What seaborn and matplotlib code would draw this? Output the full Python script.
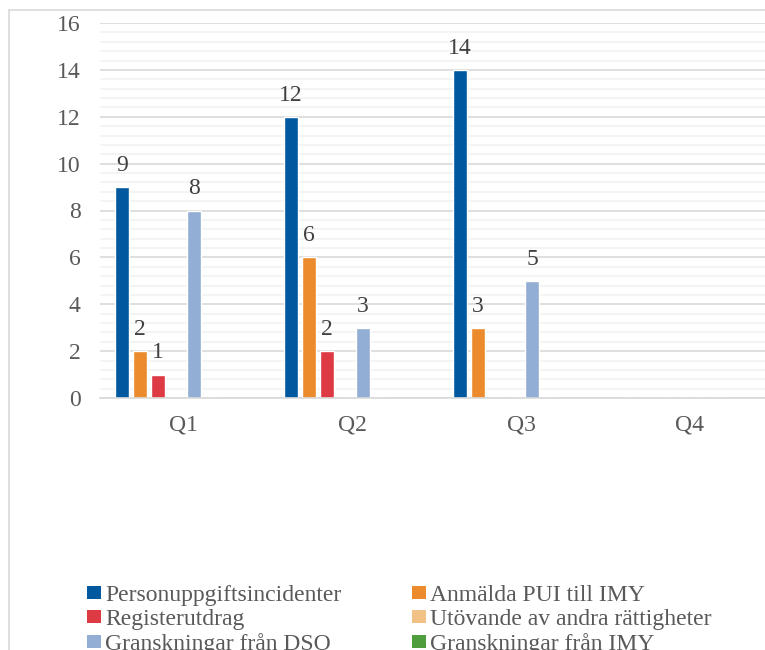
import matplotlib
matplotlib.use("Agg")
import matplotlib.pyplot as plt
import matplotlib.transforms as mtransforms
import seaborn as sns
import pandas as pd
import numpy as np
from matplotlib.lines import Line2D
from matplotlib.patches import Patch

quarters = ["Q1", "Q2", "Q3", "Q4"]
series = ["Personuppgiftsincidenter", "Anmälda PUI till IMY", "Registerutdrag",
          "Utövande av andra rättigheter", "Granskningar från DSO", "Granskningar från IMY"]
personuppgift = [9, 12, 14, 0]
anmalda = [2, 6, 3, 0]
registerutdrag = [1, 2, 0, 0]
utovande = [0, 0, 0, 0]
granskn_dso = [8, 3, 5, 0]
granskn_imy = [0, 0, 0, 0]
colors = ["#00599E", "#EC8B2D", "#DE3A44", "#F2C185", "#92AED4", "#4E9E3E"]
yticks = [0, 2, 4, 6, 8, 10, 12, 14, 16]

values = [personuppgift, anmalda, registerutdrag, utovande, granskn_dso, granskn_imy]
rows = []
for s, vals in zip(series, values):
    for q, v in zip(quarters, vals):
        rows.append({"Kvartal": q, "Serie": s, "Antal": v})
df = pd.DataFrame(rows)

sns.set_style("white")
plt.rcParams["font.family"] = ["Liberation Serif", "DejaVu Serif"]

FS = 17
W, H = 765, 650
fig = plt.figure(figsize=(W / 100, H / 100), dpi=100)
ax = fig.add_axes([100 / W, (H - 398) / H, 676 / W, 375 / H])

sns.barplot(data=df, x="Kvartal", y="Antal", hue="Serie", order=quarters,
            hue_order=series, palette=colors, width=0.64, gap=0.22,
            saturation=1, legend=False, ax=ax, errorbar=None)

for cont in ax.containers:
    labels = [f"{int(b.get_height())}" if b.get_height() > 0 else "" for b in cont]
    ax.bar_label(cont, labels=labels, padding=8, fontsize=FS, color="#404040")

left = -67 / 169
ax.set_xlim(left, left + 4)
ax.set_ylim(0, 16)
ax.set_yticks(yticks)
ax.set_yticks(np.arange(0, 16.01, 0.4), minor=True)
ax.grid(axis="y", which="major", color="#D9D9D9", linewidth=1.2, zorder=0)
ax.grid(axis="y", which="minor", color="#F2F2F2", linewidth=1.2, zorder=0)
ax.set_axisbelow(True)
for side in ["top", "right", "left"]:
    ax.spines[side].set_visible(False)
ax.spines["bottom"].set_color("#D9D9D9")
ax.spines["bottom"].set_linewidth(1.2)
ax.tick_params(axis="y", which="both", length=0, pad=14, labelsize=FS, labelcolor="#595959")
ax.tick_params(axis="x", length=0, pad=12, labelsize=FS, labelcolor="#595959")
ax.set_xlabel("")
ax.set_ylabel("")
offset = mtransforms.ScaledTranslation(16 / 100, 0, fig.dpi_scale_trans)
for lab in ax.get_xticklabels():
    lab.set_transform(lab.get_transform() + offset)

# outer chart border
fig.add_artist(Line2D([8.5 / W, 8.5 / W], [0, (H - 10) / H], color="#D9D9D9", lw=1.2, transform=fig.transFigure))
fig.add_artist(Line2D([8.5 / W, 1], [(H - 10) / H, (H - 10) / H], color="#D9D9D9", lw=1.2, transform=fig.transFigure))

order = [0, 2, 4, 1, 3, 5]
handles = [Patch(facecolor=colors[i], edgecolor="none") for i in order]
labels = [series[i] for i in order]
fig.legend(handles, labels, ncol=2, loc="upper left", bbox_to_anchor=(87 / W, (H - 585) / H),
           frameon=False, fontsize=FS, labelcolor="#595959", handlelength=0.6, handleheight=0.5,
           handletextpad=0.17, columnspacing=3.0, labelspacing=0.12, borderaxespad=0, borderpad=0)

fig.savefig("out.png", dpi=100)
